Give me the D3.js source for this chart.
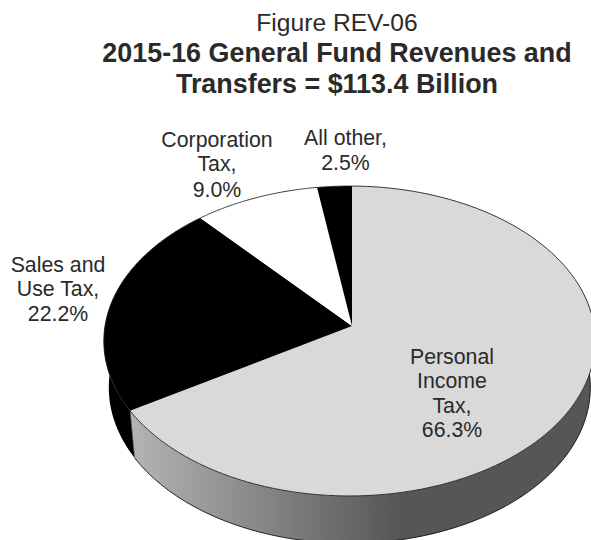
<!DOCTYPE html>
<html><head><meta charset="utf-8">
<script src="https://cdn.jsdelivr.net/npm/d3@7"></script>
<style>html,body{margin:0;padding:0;background:#fff;overflow:hidden}svg{display:block}
text{font-family:"Liberation Sans",Arial,sans-serif;fill:#2a2a2a}</style></head>
<body><svg id="c" width="591" height="540"></svg>
<script>
const categories=["Personal Income Tax","Sales and Use Tax","Corporation Tax","All other"];
const shares=[66.3,22.2,9.0,2.5];
const sliceColors=["#d9d9d9","#000000","#ffffff","#000000"];
const titleLines=["Figure REV-06","2015-16 General Fund Revenues and","Transfers = $113.4 Billion"];
const labelLines=[["Personal","Income","Tax,","66.3%"],["Sales and","Use Tax,","22.2%"],["Corporation","Tax,","9.0%"],["All other,","2.5%"]];

const svg=d3.select("#c"), W=591, H=540;
const apex=[352,326], rxP=244.5, ryP=153.5, kY=0.0968, kX=0.010, depth=46.5, bottomScaleX=0.98, bottomScaleY=1.005;
function proj(t,bottom){
  const X=Math.sin(t), Y=Math.cos(t), d=1+kY*Y+kX*X;
  const sx=bottom?bottomScaleX:1, sy=bottom?bottomScaleY:1;
  return [apex[0]+sx*rxP*X/d, apex[1]+(bottom?depth:0)-sy*ryP*Y/d];
}
const pie=d3.pie().sort(null).value(d=>d)(shares);
const line=d3.line();
const arcPts=(a,b,bottom)=>d3.range(0,121).map(i=>proj(a+(b-a)*i/120,bottom));

const grad=svg.append("defs").append("linearGradient").attr("id","wall")
 .attr("gradientUnits","userSpaceOnUse").attr("x1",131).attr("x2",400).attr("y1",0).attr("y2",0);
grad.append("stop").attr("offset",0).attr("stop-color","#b4b4b4");
grad.append("stop").attr("offset",1).attr("stop-color","#565656");

const p0=pie[0], p1=pie[1];
const wall=(a,b)=>line(arcPts(a,b,false).concat(arcPts(a,b,true).reverse()))+"Z";
svg.append("path").attr("d",wall(p1.startAngle,p1.startAngle+0.9)).attr("fill","#000");
svg.append("path").attr("d",wall(Math.PI*0.42,p0.endAngle)).attr("fill","url(#wall)");
svg.append("path").attr("d",line(arcPts(Math.PI*0.42,p0.endAngle,true))).attr("fill","none").attr("stroke","#111").attr("stroke-width",0.9);
svg.append("path").attr("d",line([proj(p0.endAngle,false),proj(p0.endAngle,true)])).attr("fill","none").attr("stroke","#222").attr("stroke-width",0.6);

pie.forEach((d,i)=>{
  const pts=[apex].concat(arcPts(d.startAngle,d.endAngle,false));
  svg.append("path").attr("d",line(pts)+"Z").attr("fill",sliceColors[i]);
  svg.append("path").attr("d",line(arcPts(d.startAngle,d.endAngle,false))).attr("fill","none").attr("stroke","#222").attr("stroke-width",0.9);
});

const titleY=[31,62,93];
titleLines.forEach((t,i)=>svg.append("text").attr("x",337).attr("y",titleY[i]).attr("text-anchor","middle")
 .attr("font-size",i?26.9:24.6).attr("font-weight",i?"bold":"normal").text(t));
const labelPos=[{x:452,y:[364,388,413,437]},{x:58,y:[272,296,321]},{x:217,y:[147,171,197]},{x:345.5,y:[145,170]}];
labelLines.forEach((ls,i)=>ls.forEach((t,j)=>svg.append("text").attr("x",labelPos[i].x).attr("y",labelPos[i].y[j])
 .attr("text-anchor","middle").attr("font-size",21.3).text(t)));
</script></body></html>
